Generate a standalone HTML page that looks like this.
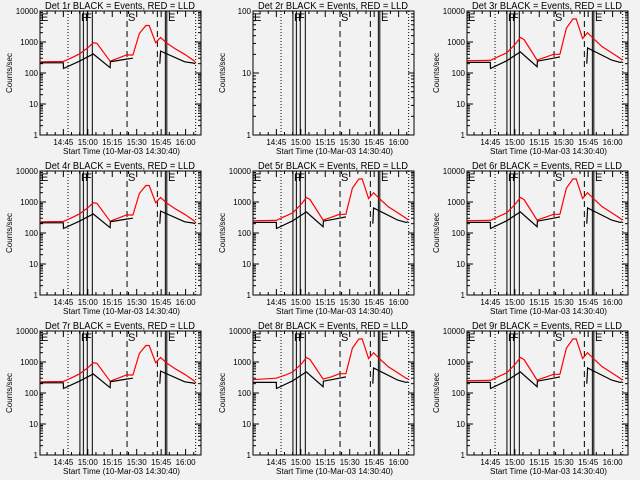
<!DOCTYPE html>
<html><head><meta charset="utf-8"><style>
html,body{margin:0;padding:0;background:#f2f2f2;}
svg{display:block;font-family:"Liberation Sans",sans-serif;}
</style></head><body>
<svg id="c" width="640" height="480"></svg>
<script>
// time in minutes after 14:30:40
const redTimes = [0,14.3,20,24.5,30,32.7,35,43,48,53,57,61,65,67,70.9,74,77.5,83,88.8,93.9,95.3];
const redA = [230,235,320,420,700,950,900,240,300,380,380,1900,3400,3400,950,1400,950,600,400,260,230];
const redB = [250,255,350,450,900,1400,1200,260,320,400,400,2800,5500,5500,1300,2000,1300,700,450,300,260];
const redC = [270,300,380,480,900,1400,1200,280,330,420,420,2800,5500,5500,1300,2000,1300,700,450,300,280];
const blackTimes = [0,14.3,14.4,24.5,32.7,43,43.2,53,57,null,73.5,74,88.8,93.9,95.3];
const blackA = [214,214,140,245,410,148,230,280,300,null,200,510,230,210,200];
const blackB = [220,220,140,250,480,160,240,300,330,null,200,640,260,220,230];
const panelTitles = ["Det 1r","Det 2r","Det 3r","Det 4r","Det 5r","Det 6r","Det 7r","Det 8r","Det 9r"];
const panelFamily = ["A","none","B","A","B","B","A","C","B"];
const xTickLabels = ["14:45","15:00","15:15","15:30","15:45","16:00"];
const xTickMinutes = [14.33,29.33,44.33,59.33,74.33,89.33];
const yTickLabelsFull = ["1","10","100","1000","10000"];
const markerMinutes = [17.2,24.5,26.6,29,32.1];
const dashedMinutes = [53.4,72];
const endMinutes = [76.9,77.8];
const dotEndMinute = [95.5];

const svg = document.getElementById('c');
const NS = 'http://www.w3.org/2000/svg';
function mk(tag, attrs, parent){const e=document.createElementNS(NS,tag);for(const k in attrs)e.setAttribute(k,attrs[k]);parent.appendChild(e);return e;}
const PX0=40, PX1=201, PY0=11, PY1=135, TMAX=(201-40)/1.63;

for(let p=0;p<9;p++){
  const ox=Math.round((p%3)*213.33), oy=Math.floor(p/3)*160;
  const g=mk('g',{transform:`translate(${ox},${oy})`},svg);
  
  
  const decades = p===1?2:4;
  const xs=t=>PX0+t*1.63;
  const ys=v=>PY1-(PY1-PY0)*Math.log10(v)/decades;
  const fr=mk('rect',{x:PX0,y:PY0,width:PX1-PX0,height:PY1-PY0,fill:'none',stroke:'#000','stroke-width':1},g);
  
  
  const ti=mk('text',{x:45,y:9,'font-size':10,textLength:150,lengthAdjust:'spacingAndGlyphs'},g);
  ti.textContent=panelTitles[p]+' BLACK = Events, RED = LLD';
  
  
  const yl=mk('text',{x:0,y:0,'font-size':8,'text-anchor':'middle',transform:'translate(12,73) rotate(-90)'},g);
  yl.textContent='Counts/sec';
  
  
  for(let d=0;d<=decades;d++){
    const y=ys(Math.pow(10,d));
    mk('line',{x1:PX0,x2:PX0+6,y1:y,y2:y,stroke:'#000'},g);
    mk('line',{x1:PX1-6,x2:PX1,y1:y,y2:y,stroke:'#000'},g);
    const tl=mk('text',{x:PX0-2,y:y+3,'font-size':8,'text-anchor':'end'},g);
    tl.textContent=yTickLabelsFull[d];
    
    
    if(d<decades){for(let m=2;m<10;m++){const yy=ys(m*Math.pow(10,d));
      mk('line',{x1:PX0,x2:PX0+3,y1:yy,y2:yy,stroke:'#000'},g);
      mk('line',{x1:PX1-3,x2:PX1,y1:yy,y2:yy,stroke:'#000'},g);}}
  }
  for(let t=4.33;t<TMAX;t+=5){
    const major=Math.abs(((t-14.33)/15)-Math.round((t-14.33)/15))<0.01;
    const L=major?6:3;
    mk('line',{x1:xs(t),x2:xs(t),y1:PY1,y2:PY1-L,stroke:'#000'},g);
    mk('line',{x1:xs(t),x2:xs(t),y1:PY0,y2:PY0+L,stroke:'#000'},g);
  }
  xTickLabels.forEach((lab,i)=>{
    const tl=mk('text',{x:xs(xTickMinutes[i]),y:145,'font-size':8,'text-anchor':'middle'},g);
    tl.textContent=lab;
    
    
  });
  const xt=mk('text',{x:63,y:154,'font-size':8,textLength:117,lengthAdjust:'spacingAndGlyphs'},g);
  xt.textContent='Start Time (10-Mar-03 14:30:40)';
  
  
  [markerMinutes[0],dotEndMinute[0]].forEach(t=>{const l=mk('line',{x1:xs(t),x2:xs(t),y1:PY0,y2:PY1,stroke:'#000','stroke-dasharray':'1,2'},g);
    
    });
  markerMinutes.slice(1).concat(endMinutes).forEach(t=>{const l=mk('line',{x1:xs(t),x2:xs(t),y1:PY0,y2:PY1,stroke:'#000'},g);
    
    });
  dashedMinutes.forEach(t=>{const l=mk('line',{x1:xs(t),x2:xs(t),y1:PY0,y2:PY1,stroke:'#000','stroke-dasharray':'6,4'},g);
    
    });
  [['E',41],['F',81],['F',85],['S',128],['E',168]].forEach(([s,x])=>{
    const tx=mk('text',{x:x,y:21,'font-size':11},g);tx.textContent=s;
    
    });
  const fam=panelFamily[p];
  if(fam!=='none'){
    const red=fam==='A'?redA:(fam==='B'?redB:redC);
    const blk=fam==='A'?blackA:blackB;
    let d='';
    redTimes.forEach((t,i)=>{d+=(i?'L':'M')+xs(t).toFixed(1)+','+ys(red[i]).toFixed(1);});
    const rp=mk('path',{d:d,fill:'none',stroke:'#ff0000','stroke-width':1.2},g);
    
    
    let db='',start=true;
    blackTimes.forEach((t,i)=>{if(t===null){start=true;return;}
      db+=(start?'M':'L')+xs(t).toFixed(1)+','+ys(blk[i]).toFixed(1);start=false;});
    const bp=mk('path',{d:db,fill:'none',stroke:'#000','stroke-width':1.2},g);
    
    
  }
}
</script>
</body></html>
